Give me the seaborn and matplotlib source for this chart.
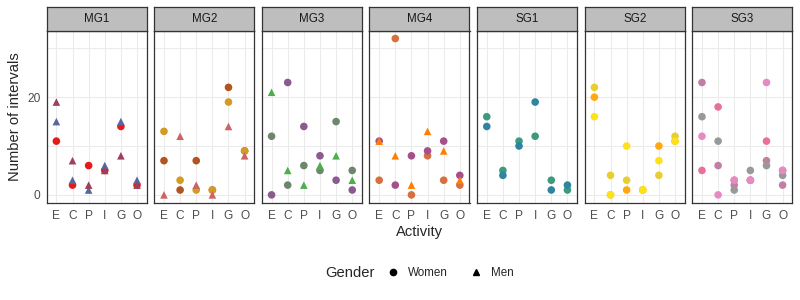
import matplotlib
matplotlib.use("Agg")
import matplotlib.pyplot as plt
from matplotlib.lines import Line2D
import pandas as pd
import seaborn as sns

# 活動カテゴリ
activities = ["E", "C", "P", "I", "G", "O"]
groups = ["MG1", "MG2", "MG3", "MG4", "SG1", "SG2", "SG3"]

# 各メンバーの区間数 (E, C, P, I, G, O の順)
mg1_w1 = [11, 2, 6, 5, 14, 2]
mg1_m1 = [15, 3, 1, 6, 15, 3]
mg1_m2 = [19, 7, 2, 5, 8, 2]

mg2_w1 = [7, 1, 7, 1, 22, 9]
mg2_w2 = [13, 3, 1, 1, 19, 9]
mg2_m1 = [0, 12, 2, 0, 14, 8]

mg3_w1 = [0, 23, 14, 8, 3, 1]
mg3_w2 = [12, 2, 6, 5, 15, 5]
mg3_m1 = [21, 5, 2, 6, 8, 3]

mg4_w1 = [3, 32, 0, 8, 3, 2]
mg4_w2 = [11, 2, 8, 9, 11, 4]
mg4_m1 = [11, 8, 2, 13, 9, 3]

sg1_w1 = [16, 5, 11, 12, 3, 1]
sg1_w2 = [14, 4, 10, 19, 1, 2]

sg2_w3 = [20, 0, 1, 1, 10, 11]
sg2_w1 = [22, 4, 3, 1, 4, 12]
sg2_w2 = [16, 0, 10, 1, 7, 11]

sg3_w1 = [23, 6, 2, 3, 7, 2]
sg3_w2 = [16, 11, 1, 5, 6, 4]
sg3_w3 = [5, 18, 3, 3, 11, 5]
sg3_w4 = [12, 0, 3, 3, 23, 5]

members = [
    ("MG1", "MG1_w1", "Women", mg1_w1), ("MG1", "MG1_m1", "Men", mg1_m1),
    ("MG1", "MG1_m2", "Men", mg1_m2),
    ("MG2", "MG2_w1", "Women", mg2_w1), ("MG2", "MG2_w2", "Women", mg2_w2),
    ("MG2", "MG2_m1", "Men", mg2_m1),
    ("MG3", "MG3_w1", "Women", mg3_w1), ("MG3", "MG3_w2", "Women", mg3_w2),
    ("MG3", "MG3_m1", "Men", mg3_m1),
    ("MG4", "MG4_w1", "Women", mg4_w1), ("MG4", "MG4_w2", "Women", mg4_w2),
    ("MG4", "MG4_m1", "Men", mg4_m1),
    ("SG1", "SG1_w1", "Women", sg1_w1), ("SG1", "SG1_w2", "Women", sg1_w2),
    ("SG2", "SG2_w3", "Women", sg2_w3), ("SG2", "SG2_w1", "Women", sg2_w1),
    ("SG2", "SG2_w2", "Women", sg2_w2),
    ("SG3", "SG3_w1", "Women", sg3_w1), ("SG3", "SG3_w2", "Women", sg3_w2),
    ("SG3", "SG3_w3", "Women", sg3_w3), ("SG3", "SG3_w4", "Women", sg3_w4),
]

# 色
palette = {
    "MG1_w1": "#e41a1c", "MG1_m1": "#56679e", "MG1_m2": "#9e3f5c",
    "MG2_w1": "#b5531f", "MG2_w2": "#d39b22", "MG2_m1": "#cd6464",
    "MG3_w1": "#8c5a8e", "MG3_w2": "#6d876d", "MG3_m1": "#4daf4a",
    "MG4_w1": "#d7703e", "MG4_w2": "#a6508a", "MG4_m1": "#ff7f00",
    "SG1_w1": "#3e9a7c", "SG1_w2": "#2f84a0",
    "SG2_w1": "#e8cf31", "SG2_w2": "#fde11b", "SG2_w3": "#ffa812",
    "SG3_w1": "#c17fa5", "SG3_w2": "#999999", "SG3_w3": "#e7719c",
    "SG3_w4": "#e68ac2",
}


def build_df():
    rows = []
    for grp, mid, gender, vals in members:
        for act, v in zip(activities, vals):
            rows.append({"group": grp, "member": mid, "gender": gender,
                         "activity": act, "count": v})
    return pd.DataFrame(rows)


def main():
    df = build_df()

    sns.set_style("white")
    plt.rcParams['font.family'] = ['Liberation Sans', 'DejaVu Sans']

    fig = plt.figure(figsize=(8, 3), dpi=100)
    W, H = 800.0, 300.0
    x0, step, pw = 46.7, 107.6, 100.0
    ptop, pbot, stop = 30.7, 202.7, 6.7
    edge = "#333333"

    for i, grp in enumerate(groups):
        left = (x0 + i * step) / W
        ax = fig.add_axes([left, 1 - pbot / H, pw / W, (pbot - ptop) / H])
        sub = df[df["group"] == grp].copy()
        sub["xpos"] = sub["activity"].map({a: k for k, a in enumerate(activities)})
        sns.scatterplot(data=sub, x="xpos", y="count", hue="member",
                        palette=palette, style="gender",
                        markers={"Women": "o", "Men": "^"},
                        s=30, linewidth=0, legend=False, ax=ax, zorder=3)
        ax.set_xlim(-0.6, 5.6)
        ax.set_ylim(-1.6, 33.6)
        ax.set_xticks(range(len(activities)))
        ax.set_xticklabels(activities)
        ax.set_yticks([0, 20])
        ax.set_yticks([10, 30], minor=True)
        ax.grid(True, which="both", color="#ebebeb", linewidth=0.75, zorder=0)
        ax.set_axisbelow(True)
        ax.set_xlabel("")
        ax.set_ylabel("")
        for sp in ax.spines.values():
            sp.set_color(edge)
            sp.set_linewidth(0.9)
        ax.tick_params(axis="x", length=2.6, width=0.8, color=edge,
                       labelsize=8.6, labelcolor="#4d4d4d", pad=2.5)
        ax.tick_params(axis="y", which="minor", length=0)
        if i == 0:
            ax.tick_params(axis="y", which="major", length=2.6, width=0.8,
                           color=edge, labelsize=8.6, labelcolor="#4d4d4d",
                           pad=2)
        else:
            ax.tick_params(axis="y", which="major", length=0, labelleft=False)

        # ストリップ
        sax = fig.add_axes([left, 1 - ptop / H, pw / W, (ptop - stop) / H])
        sax.set_facecolor("#bebebe")
        sax.set_xticks([])
        sax.set_yticks([])
        for sp in sax.spines.values():
            sp.set_color(edge)
            sp.set_linewidth(0.9)
        sax.text(0.5, 0.5, grp, ha="center", va="center", fontsize=8.4,
                 color="#1a1a1a", transform=sax.transAxes)

    fig.text(15 / W, 1 - (ptop + pbot) / 2 / H, "Number of intervals",
             rotation=90, ha="center", va="center", fontsize=10.6)
    fig.text((x0 + 6 * step + pw + x0) / 2 / W, 1 - 232 / H, "Activity",
             ha="center", va="center", fontsize=10.6)

    # 凡例
    fig.text(325 / W, 1 - 273 / H, "Gender", ha="left", va="center",
             fontsize=10.6)
    handles = [Line2D([], [], marker="o", linestyle="none", color="black",
                      markersize=4.5),
               Line2D([], [], marker="^", linestyle="none", color="black",
                      markersize=5)]
    fig.legend(handles, ["Women", "Men"], loc="center left",
               bbox_to_anchor=(386 / W, 1 - 273 / H), ncol=2, frameon=False,
               fontsize=8.4, handlelength=1.2, handletextpad=0.7,
               columnspacing=1.8, borderaxespad=0, borderpad=0)

    plt.savefig("out.png", dpi=100)
    plt.close('all')


if __name__ == '__main__':
    main()
